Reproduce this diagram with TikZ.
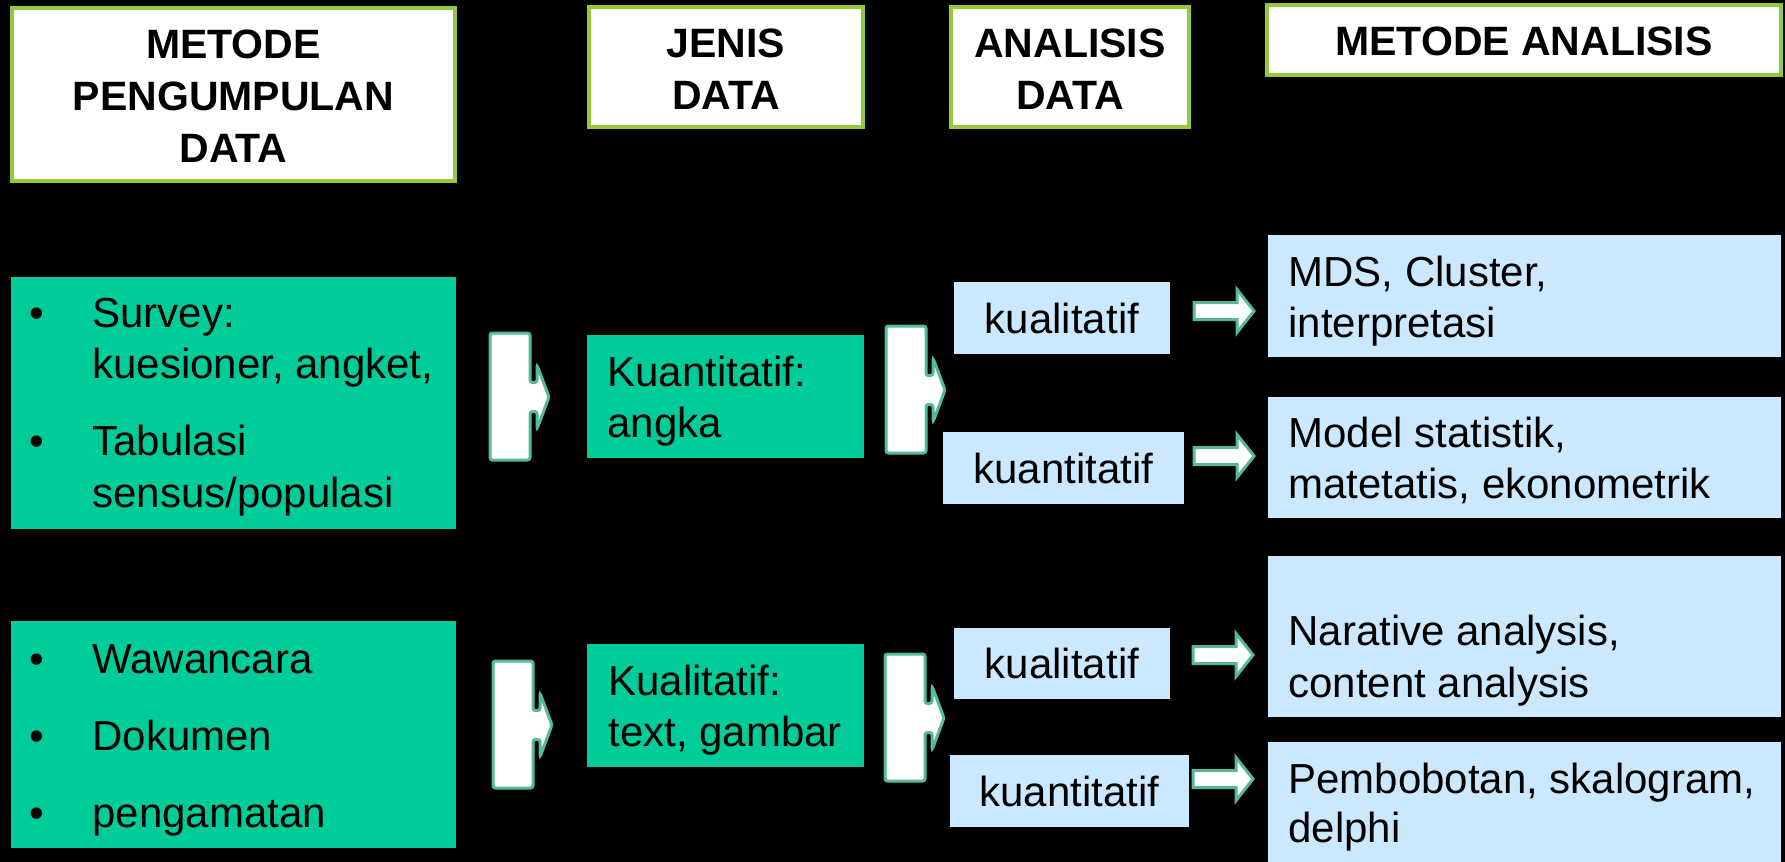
\documentclass[tikz,border=0pt]{standalone}
\usepackage{fontspec}
\setmainfont{Liberation Sans}
\usetikzlibrary{fit}

\definecolor{hdrline}{RGB}{150,200,60}
\definecolor{seagreen}{RGB}{0,204,153}
\definecolor{paleblue}{RGB}{204,232,255}
\definecolor{arrline}{RGB}{85,185,155}

\tikzset{
  hdrbox/.style={draw=hdrline, line width=2pt, fill=white, inner sep=0pt},
  greenbox/.style={fill=seagreen, inner sep=0pt},
  bluebox/.style={fill=paleblue, inner sep=0pt},
  hdrtxt/.style={font=\fontsize{20.5}{26}\selectfont\bfseries, inner sep=0pt, anchor=base},
  txt/.style={font=\fontsize{21}{25}\selectfont, inner sep=0pt, anchor=base west},
  ctxt/.style={font=\fontsize{21}{25}\selectfont, inner sep=0pt, anchor=base},
  blockarr/.style={draw=arrline, line width=1.5pt, fill=white, line join=miter},
  bigarrow/.pic={
    \path[blockarr, rounded corners=1.2pt]
      (0,-64) -- (40,-64) -- (40,-14.5) -- (47,-14.5) -- (47,-32) -- (59,0)
      -- (47,32) -- (47,14.5) -- (40,14.5) -- (40,63) -- (0,63) -- cycle;
  },
  smallarrow/.pic={
    \path[blockarr]
      (0,-8.5) -- (43,-8.5) -- (43,-21.5) -- (60,0) -- (43,21.5)
      -- (43,8.5) -- (0,8.5) -- cycle;
  },
}

\begin{document}
\begin{tikzpicture}[x=0.5pt, y=-0.5pt]
  % page
  \fill[black] (0,0) rectangle (1785,862);
  \useasboundingbox (0,0) rectangle (1785,862);

  % column headers
  \node[hdrbox, fit={(12,8)(455,181)}] (h1) {};
  \node[hdrtxt] (h1a) at (233.5,58) {METODE};
  \node[hdrtxt] (h1b) at (233.5,110) {PENGUMPULAN};
  \node[hdrtxt] (h1c) at (233.5,162) {DATA};

  \node[hdrbox, fit={(589,7)(863,127)}] (h2) {};
  \node[hdrtxt] (h2a) at (726,57) {JENIS};
  \node[hdrtxt] (h2b) at (726,109) {DATA};

  \node[hdrbox, fit={(951,7)(1189,127)}] (h3) {};
  \node[hdrtxt] (h3a) at (1070,57) {ANALISIS};
  \node[hdrtxt] (h3b) at (1070,109) {DATA};

  \node[hdrbox, fit={(1267,5)(1781,75)}] (h4) {};
  \node[hdrtxt] (h4a) at (1524,55) {METODE ANALISIS};

  % collection methods
  \node[greenbox, fit={(11,277)(456,529)}] (g1) {};
  \node[ctxt] (g1d1) at (37,327) {•};
  \node[txt] (g1a) at (92,327) {Survey:};
  \node[txt] (g1b) at (92,378) {kuesioner, angket,};
  \node[ctxt] (g1d2) at (37,455) {•};
  \node[txt] (g1c) at (92,455) {Tabulasi};
  \node[txt] (g1e) at (92,507) {sensus/populasi};

  \node[greenbox, fit={(11,621)(456,848)}] (g2) {};
  \node[ctxt] (g2d1) at (37,673) {•};
  \node[txt] (g2a) at (92,673) {Wawancara};
  \node[ctxt] (g2d2) at (37,750) {•};
  \node[txt] (g2b) at (92,750) {Dokumen};
  \node[ctxt] (g2d3) at (37,827) {•};
  \node[txt] (g2c) at (92,827) {pengamatan};

  % data types
  \node[greenbox, fit={(587,335)(864,458)}] (g3) {};
  \node[txt] (g3a) at (607,386) {Kuantitatif:};
  \node[txt] (g3b) at (607,437) {angka};

  \node[greenbox, fit={(587,644)(864,767)}] (g4) {};
  \node[txt] (g4a) at (608,695) {Kualitatif:};
  \node[txt] (g4b) at (608,746) {text, gambar};

  % analysis kinds
  \node[bluebox, fit={(954,282)(1170,354)}] (b1) {};
  \node[ctxt] (b1a) at (1062,333) {kualitatif};
  \node[bluebox, fit={(943,432)(1184,504)}] (b2) {};
  \node[ctxt] (b2a) at (1063.5,483) {kuantitatif};
  \node[bluebox, fit={(954,628)(1170,699)}] (b3) {};
  \node[ctxt] (b3a) at (1062,678) {kualitatif};
  \node[bluebox, fit={(950,755)(1189,827)}] (b4) {};
  \node[ctxt] (b4a) at (1069.5,806) {kuantitatif};

  % analysis methods
  \node[bluebox, fit={(1268,235)(1781,357)}] (r1) {};
  \node[txt] (r1a) at (1288,286) {MDS, Cluster,};
  \node[txt] (r1b) at (1288,337) {interpretasi};
  \node[bluebox, fit={(1268,397)(1781,518)}] (r2) {};
  \node[txt] (r2a) at (1288,447) {Model statistik,};
  \node[txt] (r2b) at (1288,498) {matetatis, ekonometrik};
  \node[bluebox, fit={(1268,556)(1781,717)}] (r3) {};
  \node[txt] (r3a) at (1288,645) {Narative analysis,};
  \node[txt] (r3b) at (1288,697) {content analysis};
  \node[bluebox, fit={(1268,742)(1781,862)}] (r4) {};
  \node[txt] (r4a) at (1288,793) {Pembobotan, skalogram,};
  \node[txt] (r4b) at (1288,842) {delphi};

  % block arrows between the columns
  \pic at (490,397) {bigarrow};
  \pic at (886,390) {bigarrow};
  \pic at (493,725) {bigarrow};
  \pic at (885,718) {bigarrow};

  \pic at (1194,311) {smallarrow};
  \pic at (1194,456) {smallarrow};
  \pic at (1193,655) {smallarrow};
  \pic at (1193,779) {smallarrow};
\end{tikzpicture}
\end{document}
